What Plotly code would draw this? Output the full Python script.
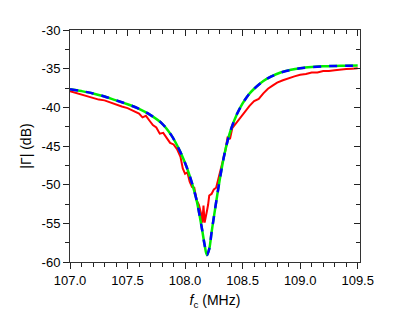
import plotly.graph_objects as go

# Fitted curve
fit_f = [107.00, 107.10, 107.20, 107.30, 107.40, 107.50, 107.60, 107.70, 107.80, 107.88,
         107.95, 108.00, 108.03, 108.06, 108.10, 108.13, 108.15, 108.17, 108.19, 108.21,
         108.23, 108.25, 108.28, 108.31, 108.34, 108.37, 108.40, 108.45, 108.50, 108.55,
         108.60, 108.68, 108.75, 108.83, 108.92, 109.00, 109.10, 109.20, 109.30, 109.40, 109.50]
fit_db = [-37.65, -37.9, -38.2, -38.6, -39.1, -39.6, -40.2, -41.0, -42.1, -43.6,
          -45.5, -47.2, -48.4, -49.8, -52.0, -54.3, -56.0, -57.8, -59.1, -58.3,
          -56.2, -54.2, -51.3, -48.6, -46.2, -44.3, -42.8, -40.9, -39.5, -38.4,
          -37.6, -36.6, -36.0, -35.5, -35.15, -34.95, -34.8, -34.7, -34.65, -34.62, -34.6]

meas_f = [107.00, 107.05, 107.10, 107.15, 107.20, 107.25, 107.30, 107.35, 107.40, 107.45,
          107.50, 107.55, 107.60, 107.63, 107.66, 107.69, 107.72, 107.75, 107.78, 107.81,
          107.84, 107.87, 107.90, 107.93, 107.96, 107.98, 108.00, 108.02, 108.04, 108.06,
          108.08, 108.10, 108.12, 108.14, 108.15, 108.16, 108.17, 108.18, 108.19, 108.20,
          108.21, 108.23, 108.25, 108.27, 108.29, 108.31, 108.33, 108.35, 108.37, 108.39,
          108.41, 108.43, 108.45, 108.47, 108.50, 108.53, 108.56, 108.60, 108.64, 108.68,
          108.72, 108.76, 108.80, 108.85, 108.90, 108.95, 109.00, 109.05, 109.10, 109.15,
          109.20, 109.25, 109.30, 109.35, 109.40, 109.45, 109.50]
meas_db = [-37.9, -38.1, -38.3, -38.5, -38.8, -39.0, -39.1, -39.4, -39.6, -39.9,
           -40.1, -40.4, -40.8, -41.3, -41.1, -41.7, -42.3, -42.6, -43.4, -43.3,
           -43.9, -44.6, -44.8, -45.4, -46.4, -47.9, -48.6, -48.4, -49.6, -50.3,
           -50.4, -52.0, -52.6, -53.8, -54.9, -52.7, -54.9, -53.9, -53.4, -52.6,
           -51.4, -51.2, -50.6, -50.4, -49.2, -48.2, -46.6, -45.6, -43.8, -44.1,
           -42.7, -42.3, -42.0, -41.6, -40.9, -40.3, -39.8, -39.2, -38.9, -38.2,
           -37.6, -37.2, -36.8, -36.5, -36.2, -36.0, -35.8, -35.7, -35.5, -35.5,
           -35.3, -35.3, -35.2, -35.1, -35.05, -35.0, -34.95]

y_ticks = [-60, -55, -50, -45, -40, -35, -30]
y_labels = ["-60", "-55", "-50", "-45", "-40", "-35", "-30"]

X_RANGE = [107.0, 109.52]
Y_RANGE = [-60, -30]

fig = go.Figure()
fig.add_trace(go.Scatter(x=meas_f, y=meas_db, mode="lines",
                         line=dict(color="#ff0000", width=2)))
fig.add_trace(go.Scatter(x=fit_f, y=fit_db, mode="lines", line_shape="spline",
                         line=dict(color="#00ee00", width=2.5)))
fig.add_trace(go.Scatter(x=fit_f, y=fit_db, mode="lines", line_shape="spline",
                         line=dict(color="#0000ff", width=2.5, dash="8px,8px")))
fig.add_trace(go.Scatter(x=fit_f, y=fit_db, xaxis="x2", yaxis="y2", mode="lines",
                         line=dict(width=1, color="rgba(0,0,0,0)"), hoverinfo="skip"))

font = dict(family="Liberation Sans, Arial, sans-serif", size=13, color="black")
lc = "#333333"
tc = "#222222"
clear = "rgba(0,0,0,0)"

fig.update_layout(
    width=397, height=331, showlegend=False,
    margin=dict(l=70, r=37, t=30, b=69, autoexpand=False),
    paper_bgcolor="white", plot_bgcolor="white",
    font=font,
    xaxis=dict(range=X_RANGE, tickmode="linear", tick0=107.0, dtick=0.5, tickformat=".1f",
               showline=True, linecolor=lc, gridcolor=clear, zeroline=False,
               ticks="outside", ticklen=6, tickcolor=tc,
               minor=dict(dtick=0.1, ticks="outside", ticklen=4, tickcolor=tc, gridcolor=clear),
               title=dict(text="<i>f</i><sub>c</sub> (MHz)", font=dict(size=14), standoff=8)),
    yaxis=dict(range=Y_RANGE, tickmode="array", tickvals=y_ticks, ticktext=y_labels,
               showline=True, linecolor=lc, gridcolor=clear, zeroline=False,
               ticks="outside", ticklen=6, tickcolor=tc,
               minor=dict(dtick=2.5, ticks="outside", ticklen=4, tickcolor=tc, gridcolor=clear),
               title=dict(text="|Γ| (dB)", font=dict(size=14), standoff=6)),
    xaxis2=dict(overlaying="x", anchor="y2", side="top", range=X_RANGE,
                tickmode="linear", tick0=107.0, dtick=0.5, showticklabels=False,
                showline=True, linecolor=lc, gridcolor=clear, zeroline=False,
                ticks="inside", ticklen=6, tickcolor=tc,
                minor=dict(dtick=0.1, ticks="inside", ticklen=4, tickcolor=tc, gridcolor=clear)),
    yaxis2=dict(overlaying="y", anchor="x2", side="right", range=Y_RANGE,
                tickmode="linear", tick0=-60, dtick=5, showticklabels=False,
                showline=True, linecolor=lc, gridcolor=clear, zeroline=False,
                ticks="inside", ticklen=6, tickcolor=tc,
                minor=dict(dtick=2.5, ticks="inside", ticklen=4, tickcolor=tc, gridcolor=clear)),
)

fig.write_html("out.html", config={"displayModeBar": False},
               post_script="document.body.style.margin='0';")
